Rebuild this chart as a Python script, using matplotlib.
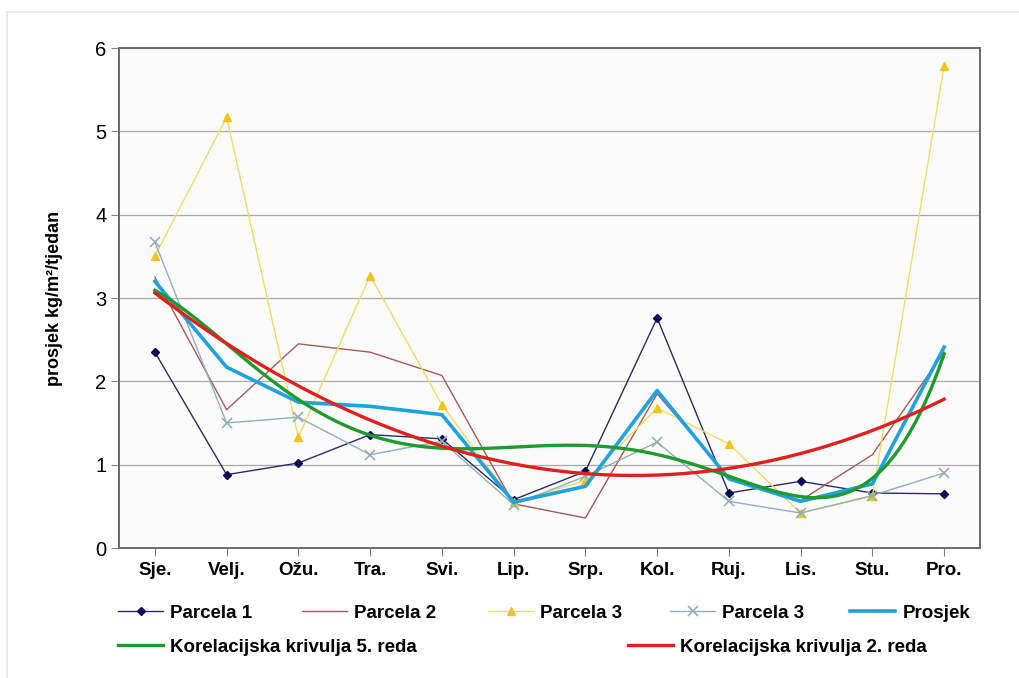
import numpy as np
import matplotlib
matplotlib.use("Agg")
import matplotlib.pyplot as plt
from matplotlib.lines import Line2D

# === Data ===
months = ["Sje.", "Velj.", "Ožu.", "Tra.", "Svi.", "Lip.",
          "Srp.", "Kol.", "Ruj.", "Lis.", "Stu.", "Pro."]

parcela1 = [2.35, 0.88, 1.02, 1.36, 1.31, 0.58, 0.92, 2.76, 0.66, 0.80, 0.66, 0.65]
parcela2 = [3.25, 1.66, 2.45, 2.35, 2.07, 0.53, 0.36, 1.85, 0.85, 0.57, 1.12, 2.35]
parcela3 = [3.50, 5.17, 1.33, 3.27, 1.72, 0.55, 0.81, 1.68, 1.25, 0.42, 0.62, 5.79]
parcela3x = [3.67, 1.50, 1.57, 1.12, 1.28, 0.52, 0.86, 1.27, 0.56, 0.42, 0.63, 0.90]
prosjek = [3.20, 2.17, 1.75, 1.70, 1.60, 0.55, 0.74, 1.89, 0.83, 0.56, 0.77, 2.41]

# trend line values as read at each month (fitted below as polynomials)
trend5 = [3.10, 2.43, 1.78, 1.38, 1.20, 1.20, 1.21, 1.12, 0.88, 0.64, 0.80, 2.34]
trend2 = [3.05, 2.47, 1.96, 1.50, 1.24, 1.02, 0.88, 0.86, 0.96, 1.14, 1.43, 1.77]

# === Style ===
plt.rcParams["font.family"] = ["Liberation Sans", "DejaVu Sans"]

W, H = 1019, 678
x = np.arange(len(months))
xs = np.linspace(0, len(months) - 1, 300)
fit5 = np.polyval(np.polyfit(x, trend5, 5), xs)
fit2 = np.polyval(np.polyfit(x, trend2, 2), xs)

fig = plt.figure(figsize=(W / 100, H / 100), dpi=100)
fig.patch.set_facecolor("white")
ax = fig.add_axes([119 / W, 1 - 548 / H, (980 - 119) / W, (548 - 48) / H])
ax.set_facecolor("#fbfbfb")

# faint outer frame (top and left only)
fig.add_artist(Line2D([7 / W, 1], [1 - 12 / H, 1 - 12 / H], color="#e6e6e6", lw=1.2))
fig.add_artist(Line2D([7 / W, 7 / W], [0, 1 - 12 / H], color="#e6e6e6", lw=1.2))

ax.plot(x, parcela1, color="#2a2a6a", lw=1.0, marker="D", ms=4.5,
        mfc="#0a0a55", mec="#0a0a55", label="Parcela 1", zorder=3)
ax.plot(x, parcela2, color="#a65a55", lw=1.0, label="Parcela 2", zorder=3)
ax.plot(x, parcela3, color="#f2dc60", lw=1.0, marker="^", ms=6,
        mfc="#f0c419", mec="#f0c419", label="Parcela 3", zorder=3)
ax.plot(x, parcela3x, color="#8fb0b8", lw=1.0, marker="x", ms=7, mew=1.2,
        mec="#8fb0b8", label="Parcela 3", zorder=3)
ax.plot(x, prosjek, color="#1ea3e0", lw=2.6, label="Prosjek", zorder=4)
ax.plot(xs, fit5, color="#1f9a2e", lw=2.4, label="Korelacijska krivulja 5. reda", zorder=5)
ax.plot(xs, fit2, color="#e0201c", lw=2.4, label="Korelacijska krivulja 2. reda", zorder=5)

ax.set_xlim(-0.5, len(months) - 0.5)
ax.set_ylim(0, 6)
ax.set_yticks(range(0, 7))
ax.set_xticks(x)
ax.set_xticklabels(months, fontsize=13.5, fontweight="bold")
ax.tick_params(axis="y", labelsize=14.5, length=6, color="#808080", pad=3)
ax.tick_params(axis="x", length=6, color="#808080", pad=4)
ax.grid(axis="y", color="#a8a8a8", lw=0.9)
ax.set_axisbelow(True)
for s in ax.spines.values():
    s.set_color("#6a6a6a")
    s.set_linewidth(1.4)

ax.set_ylabel("prosjek kg/m²/tjedan", fontsize=13, fontweight="bold")
ax.yaxis.set_label_coords((63 - 119) / (980 - 119), 0.5)

# === Legend: one entry per slot, two rows ===
handles, labels = ax.get_legend_handles_labels()
slots = [(118, 613), (302, 613), (488, 613), (670, 613), (850, 613),
         (118, 647), (628, 647)]
for h, lab, (px, py) in zip(handles, labels, slots):
    fig.legend([h], [lab], loc="center left",
               bbox_to_anchor=(px / W, 1 - py / H), frameon=False,
               prop={"weight": "bold", "size": 13.5},
               handlelength=2.4, handletextpad=0.4,
               borderpad=0, borderaxespad=0)

fig.savefig("out.png", dpi=100, facecolor="white")
